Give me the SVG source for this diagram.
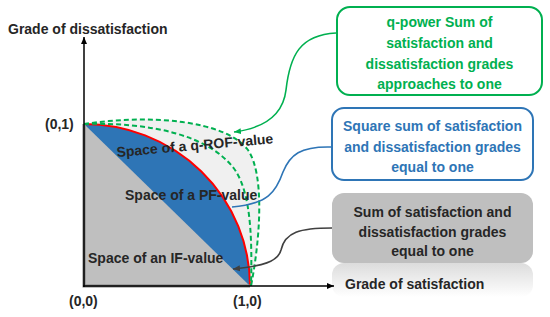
<svg xmlns="http://www.w3.org/2000/svg" width="550" height="317" viewBox="0 0 550 317">
<style>
text{font-family:"Liberation Sans",Arial,sans-serif;font-weight:bold;font-size:14px;fill:#262626}
.g{fill:#00b050}.b{fill:#2e75b6}
.dash{fill:none;stroke:#00b050;stroke-width:2;stroke-dasharray:5 3}
.conn{fill:none;stroke-width:1.6}
</style>
<defs>
<marker id="axArrow" markerWidth="8" markerHeight="8" refX="7" refY="4" orient="auto" markerUnits="userSpaceOnUse"><path d="M0,1 L7,4 L0,7 Z" fill="#000"/></marker>
<marker id="gArrow" markerWidth="8" markerHeight="8" refX="7" refY="4" orient="auto" markerUnits="userSpaceOnUse"><path d="M0,1 L7,4 L0,7 Z" fill="#00b050"/></marker>
<marker id="kArrow" markerWidth="8" markerHeight="8" refX="7" refY="4" orient="auto" markerUnits="userSpaceOnUse"><path d="M0,1 L7,4 L0,7 Z" fill="#404040"/></marker>
<linearGradient id="refl" x1="0" y1="0" x2="0" y2="1"><stop offset="0" stop-color="#dcdcdc"/><stop offset="1" stop-color="#ffffff"/></linearGradient>
</defs>

<g id="regions">
<path d="M84,124 C150,114 225,120 248,150 C265,175 260,240 251,286 L84,286 Z" fill="#f0f0f0"/>
<path d="M84,124 A166,162 0 0 1 250,286 L84,286 Z" fill="#2e75b6"/>
<path d="M84,124 A166,162 0 0 1 250,286" fill="none" stroke="#ff0000" stroke-width="2"/>
<path d="M84,124 L250,286 L84,286 Z" fill="#bfbfbf"/>
<path d="M84,124 L84,286 L250,286" fill="none" stroke="#808080" stroke-width="3"/>
<path class="dash" d="M84,124 C150,114 225,120 248,150 C265,175 260,240 251,286"/>
<path class="dash" d="M84,124 C150,122 210,135 235,170 C252,195 252,245 251,286"/>
</g>

<g id="box-if">
<rect x="332" y="263" width="201" height="34" rx="12" fill="url(#refl)"/>
<rect x="332" y="193" width="201" height="70" rx="12" fill="#bfbfbf"/>
<text x="432.5" y="217" text-anchor="middle">Sum of satisfaction and</text>
<text x="432.5" y="237" text-anchor="middle">dissatisfaction grades</text>
<text x="432.5" y="256" text-anchor="middle">equal to one</text>
</g>

<g id="axes">
<line x1="84" y1="287" x2="84" y2="37" stroke="#000" stroke-width="1.5" marker-end="url(#axArrow)"/>
<line x1="83" y1="286" x2="334" y2="286" stroke="#000" stroke-width="1.5" marker-end="url(#axArrow)"/>
<text x="8" y="34">Grade of dissatisfaction</text>
<text x="345" y="289">Grade of satisfaction</text>
<text x="45" y="129" font-size="15">(0,1)</text>
<text x="69" y="306" font-size="15">(0,0)</text>
<text x="233" y="306" font-size="15">(1,0)</text>
</g>

<g id="labels">
<text x="117" y="157" transform="rotate(-5 117 157)">Space of a q-ROF-value</text>
<text x="125" y="200">Space of a PF-value</text>
<text x="88" y="263">Space of an IF-value</text>
</g>

<g id="box-q">
<rect x="337" y="7" width="205" height="88" rx="13" fill="#fff" stroke="#00b050" stroke-width="2"/>
<text class="g" x="439.5" y="27" text-anchor="middle">q-power Sum of</text>
<text class="g" x="439.5" y="48" text-anchor="middle">satisfaction and</text>
<text class="g" x="439.5" y="69" text-anchor="middle">dissatisfaction grades</text>
<text class="g" x="439.5" y="89" text-anchor="middle">approaches to one</text>
</g>

<g id="box-pf">
<rect x="332" y="108" width="201" height="72" rx="12" fill="#fff" stroke="#2e75b6" stroke-width="2"/>
<text class="b" x="432.5" y="131" text-anchor="middle">Square sum of satisfaction</text>
<text class="b" x="432.5" y="152" text-anchor="middle">and dissatisfaction grades</text>
<text class="b" x="432.5" y="172" text-anchor="middle">equal to one</text>
</g>

<g id="connectors">
<path class="conn" stroke="#00b050" d="M336,33 C300,35 290,55 286,90 C283,115 265,128 234,132" marker-end="url(#gArrow)"/>
<path class="conn" stroke="#2e75b6" d="M332,147 C300,146 290,155 283,172 C276,192 268,204 232,207"/>
<path class="conn" stroke="#404040" d="M332,228 C300,228 285,232 281,250 C278,262 262,266 233,269" marker-end="url(#kArrow)"/>
</g>
</svg>
